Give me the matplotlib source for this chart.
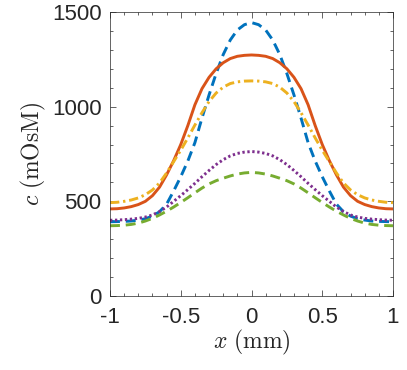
import matplotlib
matplotlib.use('Agg')
import matplotlib.pyplot as plt
from matplotlib.ticker import MultipleLocator

# x positions (mm)
x = [-1.0, -0.95, -0.9, -0.85, -0.8, -0.75, -0.7, -0.65, -0.6, -0.55, -0.5,
     -0.45, -0.4, -0.35, -0.3, -0.25, -0.2, -0.15, -0.1, -0.05, 0.0,
     0.05, 0.1, 0.15, 0.2, 0.25, 0.3, 0.35, 0.4, 0.45, 0.5,
     0.55, 0.6, 0.65, 0.7, 0.75, 0.8, 0.85, 0.9, 0.95, 1.0]

# concentration profiles (mOsM)
c_blue = [392, 393, 394, 396, 401, 408, 422, 445, 485, 555, 630,
          713, 810, 940, 1062, 1175, 1275, 1352, 1405, 1433, 1444,
          1433, 1405, 1352, 1275, 1175, 1062, 940, 810, 713, 630,
          555, 485, 445, 422, 408, 401, 396, 394, 393, 392]
c_orange = [460, 461, 465, 472, 483, 500, 530, 575, 640, 715, 800,
            900, 1010, 1095, 1155, 1200, 1232, 1254, 1266, 1271, 1273,
            1271, 1266, 1254, 1232, 1200, 1155, 1095, 1010, 900, 800,
            715, 640, 575, 530, 500, 483, 472, 465, 461, 460]
c_yellow = [493, 495, 500, 507, 518, 535, 560, 597, 650, 710, 770,
            835, 903, 968, 1027, 1072, 1103, 1122, 1131, 1135, 1136,
            1135, 1131, 1122, 1103, 1072, 1027, 968, 903, 835, 770,
            710, 650, 597, 560, 535, 518, 507, 500, 495, 493]
c_purple = [400, 401, 403, 406, 410, 417, 428, 446, 470, 500, 530,
            562, 595, 630, 663, 694, 720, 740, 753, 760, 763,
            760, 753, 740, 720, 694, 663, 630, 595, 562, 530,
            500, 470, 446, 428, 417, 410, 406, 403, 401, 400]
c_green = [371, 372, 374, 378, 385, 396, 410, 428, 448, 470, 494,
           519, 545, 570, 592, 609, 622, 634, 644, 650, 653,
           650, 644, 634, 622, 609, 592, 570, 545, 519, 494,
           470, 448, 428, 410, 396, 385, 378, 374, 372, 371]

plt.rcParams['font.family'] = ['Liberation Sans', 'DejaVu Sans']
plt.rcParams['mathtext.fontset'] = 'cm'

fig = plt.figure(figsize=(4.07, 3.70), dpi=100)
ax = fig.add_axes([0.2703, 0.2, 0.6953, 0.7676])

lw = 2.1
ax.plot(x, c_blue, color='#0072BD', lw=lw, dashes=(3.4, 2.0))
ax.plot(x, c_orange, color='#D95319', lw=lw, ls='-')
ax.plot(x, c_yellow, color='#EDB120', lw=lw, dashes=(3.2, 1.3, 0.8, 1.3))
ax.plot(x, c_purple, color='#7E2F8E', lw=lw, dashes=(0.8, 0.9))
ax.plot(x, c_green, color='#77AC30', lw=lw, dashes=(3.4, 2.0))

ax.set_xlim(-1, 1)
ax.set_ylim(0, 1500)
ax.set_xticks([-1, -0.5, 0, 0.5, 1])
ax.set_xticklabels(['-1', '-0.5', '0', '0.5', '1'])
ax.set_yticks([0, 500, 1000, 1500])
ax.xaxis.set_minor_locator(MultipleLocator(0.1))
ax.yaxis.set_minor_locator(MultipleLocator(100))

for s in ax.spines.values():
    s.set_color('#262626')
    s.set_linewidth(0.5)
ax.tick_params(which='both', direction='in', top=True, right=True,
               color='#262626', width=0.5)
ax.tick_params(which='major', length=4, labelsize=16, labelcolor='#262626')
ax.tick_params(which='minor', length=2)
ax.tick_params(axis='x', which='major', pad=8)
ax.tick_params(axis='y', which='major', pad=6)

ax.set_xlabel(r'$x\ \mathrm{(mm)}$', fontsize=17, color='#262626', labelpad=0)
ax.set_ylabel(r'$c\ \mathrm{(mOsM)}$', fontsize=17, color='#262626', labelpad=3)

fig.savefig('out.png', dpi=100)
